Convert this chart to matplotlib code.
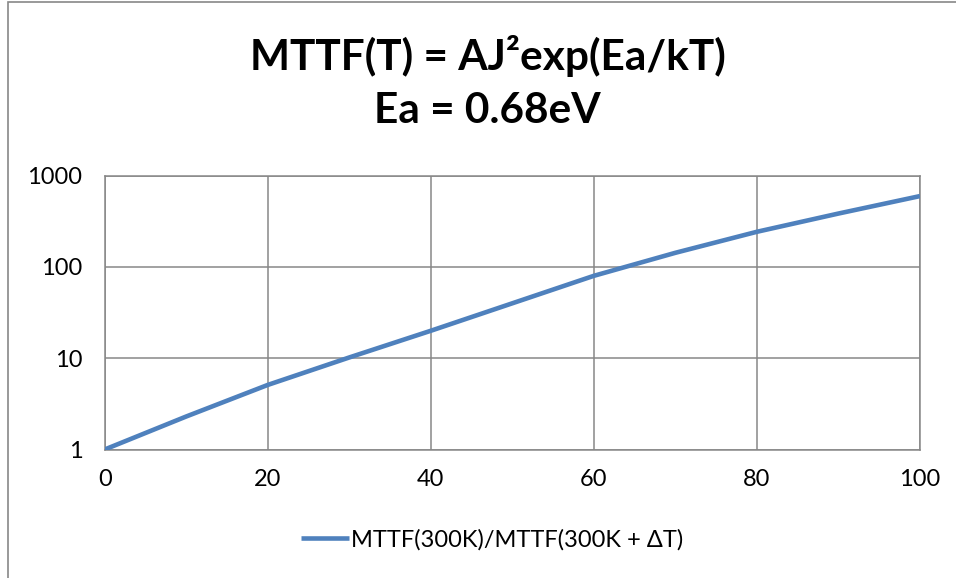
import matplotlib
matplotlib.use("Agg")
import matplotlib.pyplot as plt
from matplotlib.patches import Rectangle
from matplotlib.ticker import FixedLocator, FixedFormatter, NullLocator

# values
delta_t = [0, 10, 20, 30, 40, 50, 60, 70, 80, 90, 100]
mttf_ratio = [1, 2.3, 5.1, 10.2, 20, 40, 80, 143, 243, 385, 598]
x_ticks = [0, 20, 40, 60, 80, 100]
y_ticks = [1, 10, 100, 1000]
y_labels = ["1", "10", "100", "1000"]
series_name = "MTTF(300K)/MTTF(300K + \u0394T)"

plt.rcParams["font.family"] = ["Lato", "DejaVu Sans"]

fig = plt.figure(figsize=(9.56, 5.78), dpi=100)
ax = fig.add_axes([0.1095, 0.2223, 0.8528, 0.4737])

grid_col = "#878787"
ax.plot(delta_t, mttf_ratio, color="#4F81BD", linewidth=3.3,
        solid_capstyle="butt", solid_joinstyle="round", label=series_name, zorder=3)

ax.set_yscale("log")
ax.set_xlim(0, 100)
ax.set_ylim(1, 1000)
ax.xaxis.set_major_locator(FixedLocator(x_ticks))
ax.yaxis.set_major_locator(FixedLocator(y_ticks))
ax.yaxis.set_major_formatter(FixedFormatter(y_labels))
ax.yaxis.set_minor_locator(NullLocator())
ax.grid(True, color=grid_col, linewidth=1.1)
ax.tick_params(length=0, labelsize=17, colors="black")
ax.tick_params(axis="y", pad=16)
ax.tick_params(axis="x", pad=14)
for s in ax.spines.values():
    s.set_color(grid_col)
    s.set_linewidth(1.1)

# two-line chart title
fig.text(0.51, 0.879, "MTTF(T) = AJ\u00b2exp(Ea/kT)", ha="center", va="baseline",
         fontsize=30.5, fontweight="bold")
fig.text(0.51, 0.787, "Ea = 0.68eV", ha="center", va="baseline",
         fontsize=30.5, fontweight="bold")

leg = fig.legend(loc="center", bbox_to_anchor=(0.515, 0.066), frameon=False,
                 fontsize=17, handlelength=2.0, handletextpad=0.1)

fig.patches.append(Rectangle((0.0084, -0.01), 1.0, 1.0065, transform=fig.transFigure,
                             fill=False, edgecolor="#888888", linewidth=1.2))

fig.savefig("out.png", dpi=100)
